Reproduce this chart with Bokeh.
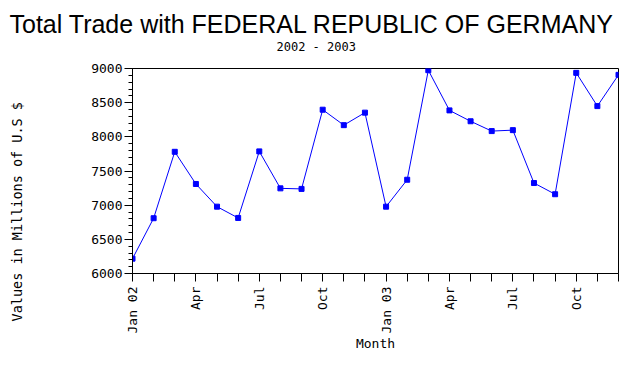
from math import pi
from bokeh.plotting import figure
from bokeh.models import (ColumnDataSource, Range1d, FixedTicker, SingleIntervalTicker,
                          Title)
from bokeh.embed import file_html
from bokeh.resources import INLINE

# ---- data ----
months = ["Jan 02", "Feb 02", "Mar 02", "Apr 02", "May 02", "Jun 02",
          "Jul 02", "Aug 02", "Sep 02", "Oct 02", "Nov 02", "Dec 02",
          "Jan 03", "Feb 03", "Mar 03", "Apr 03", "May 03", "Jun 03",
          "Jul 03", "Aug 03", "Sep 03", "Oct 03", "Nov 03", "Dec 03"]
trade = [6217, 6809, 7781, 7310, 6978, 6813, 7787, 7246, 7238, 8397, 8171, 8354,
         6978, 7372, 8975, 8387, 8228, 8084, 8098, 7324, 7160, 8936, 8450, 8907]
tick_labels = ["Jan 02", "", "", "Apr", "", "", "Jul", "", "", "Oct", "", "",
               "Jan 03", "", "", "Apr", "", "", "Jul", "", "", "Oct", "", ""]
y_min, y_max, y_step = 6000, 9000, 500

MONO = "DejaVu Sans Mono"

idx = list(range(len(months)))
src = ColumnDataSource(dict(x=idx, y=trade, m=months))

p = figure(width=620, height=354, output_backend="svg", toolbar_location=None,
           x_range=Range1d(0, len(months) - 1), y_range=Range1d(y_min, y_max),
           min_border_left=132, min_border_right=2, min_border_top=68,
           min_border_bottom=80)

p.line("x", "y", source=src, line_color="blue", line_width=1)
p.scatter("x", "y", source=src, marker="square", size=5, fill_color="blue",
          line_color="blue")

p.xgrid.visible = False
p.ygrid.visible = False
p.outline_line_color = "black"
p.outline_line_alpha = 1.0
p.background_fill_color = "white"
p.border_fill_color = "white"

xa = p.xaxis[0]
xa.ticker = FixedTicker(ticks=idx)
xa.major_label_overrides = {i: t for i, t in zip(idx, tick_labels)}
xa.major_label_orientation = pi / 2
xa.major_tick_out = 8
xa.major_tick_in = 0
xa.major_label_standoff = 5
xa.axis_label = "Month"
xa.axis_label_standoff = 0
xa.axis_label_text_font = MONO
xa.axis_label_text_font_size = "13px"
xa.axis_label_text_font_style = "normal"
xa.major_label_text_font = MONO
xa.major_label_text_font_size = "13px"

ya = p.yaxis[0]
ya.ticker = SingleIntervalTicker(interval=y_step, num_minor_ticks=5)
ya.major_tick_out = 8
ya.major_tick_in = 0
ya.minor_tick_out = 4
ya.minor_tick_in = 0
ya.major_label_standoff = 2
ya.major_label_text_font = MONO
ya.major_label_text_font_size = "13px"

for ax in (xa, ya):
    ax.axis_line_color = "black"
    ax.major_tick_line_color = "black"
    ax.major_label_text_color = "black"
    ax.axis_label_text_color = "black"
xa.minor_tick_line_color = None
ya.minor_tick_line_color = "black"

# left side: spacer then rotated y label
p.add_layout(Title(text=" ", text_font_size="1px", standoff=61), "left")
p.add_layout(Title(text="Values in Millions of U.S $", align="left",
                   offset=-48, standoff=0, text_font=MONO,
                   text_font_size="13.5px", text_font_style="normal",
                   text_color="black"), "left")

# top: spacer, subtitle, title
p.add_layout(Title(text=" ", text_font_size="1px", standoff=12), "above")
p.add_layout(Title(text="2002 - 2003", align="left", offset=144, text_font=MONO,
                   text_font_size="12px", text_font_style="normal",
                   standoff=0, text_color="black"), "above")
p.add_layout(Title(text="Total Trade with FEDERAL REPUBLIC OF GERMANY",
                   align="left", offset=-123, text_font="Liberation Sans",
                   text_font_size="25px", text_font_style="normal",
                   standoff=0, text_color="black"), "above")

open("out.html", "w").write(file_html(p, INLINE))
